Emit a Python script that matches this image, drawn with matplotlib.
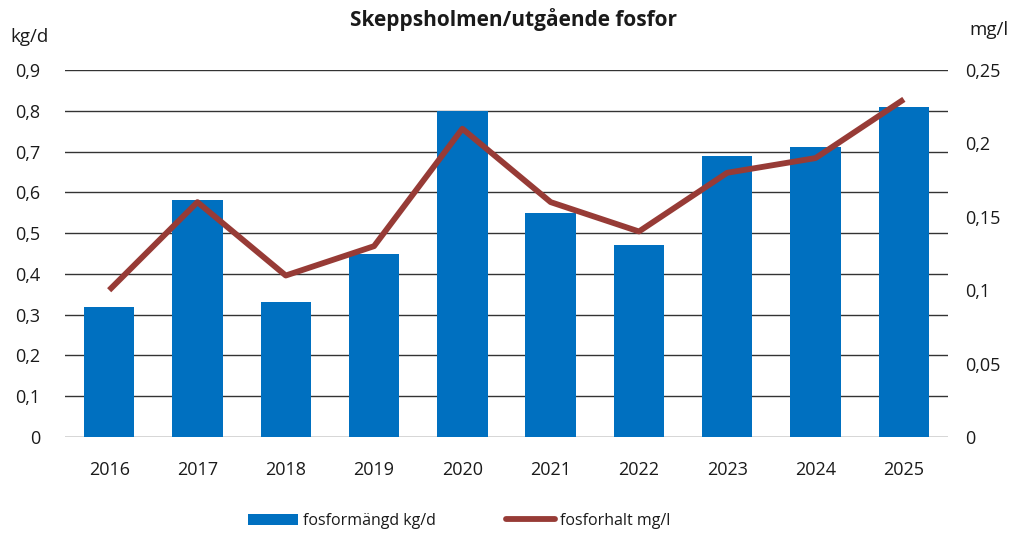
import matplotlib
matplotlib.use("Agg")
import matplotlib.pyplot as plt
from matplotlib.patches import Patch
from matplotlib.lines import Line2D

years = ["2016", "2017", "2018", "2019", "2020", "2021", "2022", "2023", "2024", "2025"]
fosformangd = [0.32, 0.58, 0.33, 0.45, 0.80, 0.55, 0.47, 0.69, 0.71, 0.81]
fosforhalt = [0.10, 0.16, 0.11, 0.13, 0.21, 0.16, 0.14, 0.18, 0.19, 0.23]
left_ticks = [0, 0.1, 0.2, 0.3, 0.4, 0.5, 0.6, 0.7, 0.8, 0.9]
left_labels = ["0", "0,1", "0,2", "0,3", "0,4", "0,5", "0,6", "0,7", "0,8", "0,9"]
right_ticks = [0, 0.05, 0.10, 0.15, 0.20, 0.25]
right_labels = ["0", "0,05", "0,1", "0,15", "0,2", "0,25"]

plt.rcParams['font.family'] = ['Open Sans', 'DejaVu Sans']
BLUE = "#0070C0"
RED = "#973B36"
TXT = "#1a1a1a"

fig = plt.figure(figsize=(10.13, 5.41), dpi=100)
ax = fig.add_axes([65/1013, 1-437/541, (948-65)/1013, (437-70)/541])
x = list(range(len(years)))
ax.bar(x, fosformangd, width=0.57, color=BLUE, zorder=2)
ax.set_xlim(-0.5, len(years)-0.5)
ax.set_ylim(0, 0.9)
ax.set_yticks(left_ticks)
ax.set_yticklabels(left_labels)
ax.set_xticks(x)
ax.set_xticklabels(years)
for s in ax.spines.values():
    s.set_visible(False)
ax.grid(axis='y', color="#333333", linewidth=1.0, zorder=0)
ax.set_axisbelow(True)
ax.tick_params(axis='y', length=0, pad=18, labelsize=13, labelcolor=TXT)
ax.tick_params(axis='x', length=0, pad=17, labelsize=13, labelcolor=TXT)

ax2 = ax.twinx()
ax2.plot(x, fosforhalt, color=RED, linewidth=4.2, solid_capstyle='butt', zorder=3)
ax2.set_ylim(0, 0.25)
ax2.set_yticks(right_ticks)
ax2.set_yticklabels(right_labels)
for s in ax2.spines.values():
    s.set_visible(False)
ax2.tick_params(axis='y', length=0, pad=12, labelsize=13, labelcolor=TXT)

fig.text(513/1013, 1-20/541, "Skeppsholmen/utgående fosfor", ha='center', va='center',
         fontsize=15, fontweight='bold', color=TXT)
fig.text(10/1013, 1-37/541, "kg/d", ha='left', va='center', fontsize=13.5, color=TXT)
fig.text(1008/1013, 1-30/541, "mg/l", ha='right', va='center', fontsize=13.5, color=TXT)

handles = [Patch(facecolor=BLUE, edgecolor='none'),
           Line2D([0], [0], color=RED, linewidth=4.2, solid_capstyle='round')]
fig.legend(handles, ["fosformängd kg/d", "fosforhalt mg/l"], loc='center',
           bbox_to_anchor=(459.5/1013, 1-521/541), ncol=2, frameon=False, fontsize=11.5,
           handlelength=3.1, handletextpad=0.3, columnspacing=4.4, labelcolor=TXT)

fig.savefig("out.png", dpi=100)
